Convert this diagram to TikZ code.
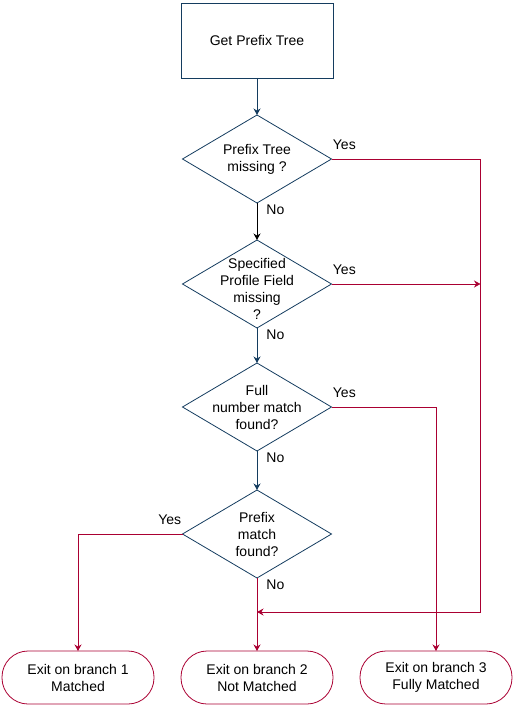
\documentclass[tikz,border=0pt]{standalone}
\usepackage{fontspec}
\setmainfont{Liberation Sans}
\usetikzlibrary{shapes.geometric, arrows.meta, positioning}
\definecolor{flowblue}{RGB}{20,60,95}
\definecolor{flowred}{RGB}{170,0,50}
\tikzstyle{process} = [draw=flowblue, line width=0.8pt, rectangle, outer sep=0pt, minimum width=152pt, minimum height=75pt, align=center]
\tikzstyle{decision} = [draw=flowblue, line width=0.8pt, diamond, outer sep=0pt, minimum width=149pt, minimum height=88pt, inner sep=0pt]
\tikzstyle{exitbox} = [draw=flowred, line width=0.8pt, rectangle, outer sep=0pt, rounded corners=26pt, minimum width=152pt, minimum height=53pt, align=center]
\tikzstyle{arrow} = [line width=0.8pt, -{Stealth[length=6.5pt,width=7pt]}]
\tikzstyle{yesno} = [inner sep=1pt, text=black]

\begin{document}
\begin{tikzpicture}[font=\fontsize{14}{17}\selectfont]
    \useasboundingbox (0,0) rectangle (514pt,-706pt);

    \node[process] (start) at (257pt,-40.5pt) {Get Prefix Tree};

    \node[decision, below=37pt of start, label={[align=center]center:Prefix Tree\\missing ?}] (d1) {};
    \node[decision, below=37pt of d1, label={[align=center, yshift=-5pt]center:Specified\\Profile Field\\missing\\?}] (d2) {};
    \node[decision, below=35pt of d2, label={[align=center]center:Full\\number match\\found?}] (d3) {};
    \node[decision, below=39pt of d3, label={[align=center]center:Prefix\\match\\found?}] (d4) {};

    \node[exitbox, below=73pt of d4] (exit2) {Exit on branch 2\\Not Matched};
    \node[exitbox, left=27pt of exit2] (exit1) {Exit on branch 1\\Matched};
    \node[exitbox, right=27pt of exit2] (exit3) {Exit on branch 3\\Fully Matched};

    \coordinate[right=149pt of d1.east] (rail);
    \coordinate[below=34pt of d4.south] (merge);

    \draw[arrow, flowblue] (start.south) -- (d1.north);
    \draw[arrow, black] (d1.south) node[yesno, anchor=north west, xshift=8pt] {No} -- (d2.north);
    \draw[arrow, flowblue] (d2.south) node[yesno, anchor=north west, xshift=8pt] {No} -- (d3.north);
    \draw[arrow, flowblue] (d3.south) node[yesno, anchor=north west, xshift=8pt] {No} -- (d4.north);
    \draw[arrow, flowred] (d4.south) node[yesno, anchor=north west, xshift=8pt] {No} -- (exit2.north);

    \draw[arrow, flowred] (d1.east) node[yesno, anchor=south west, yshift=8pt] {Yes} -- (rail) |- (merge);
    \draw[arrow, flowred] (d2.east) node[yesno, anchor=south west, yshift=8pt] {Yes} -- (rail |- d2.east);
    \draw[arrow, flowred] (d3.east) node[yesno, anchor=south west, yshift=8pt] {Yes} -| (exit3.north);
    \draw[arrow, flowred] (d4.west) node[yesno, anchor=south east, yshift=8pt] {Yes} -| (exit1.north);
\end{tikzpicture}
\end{document}
